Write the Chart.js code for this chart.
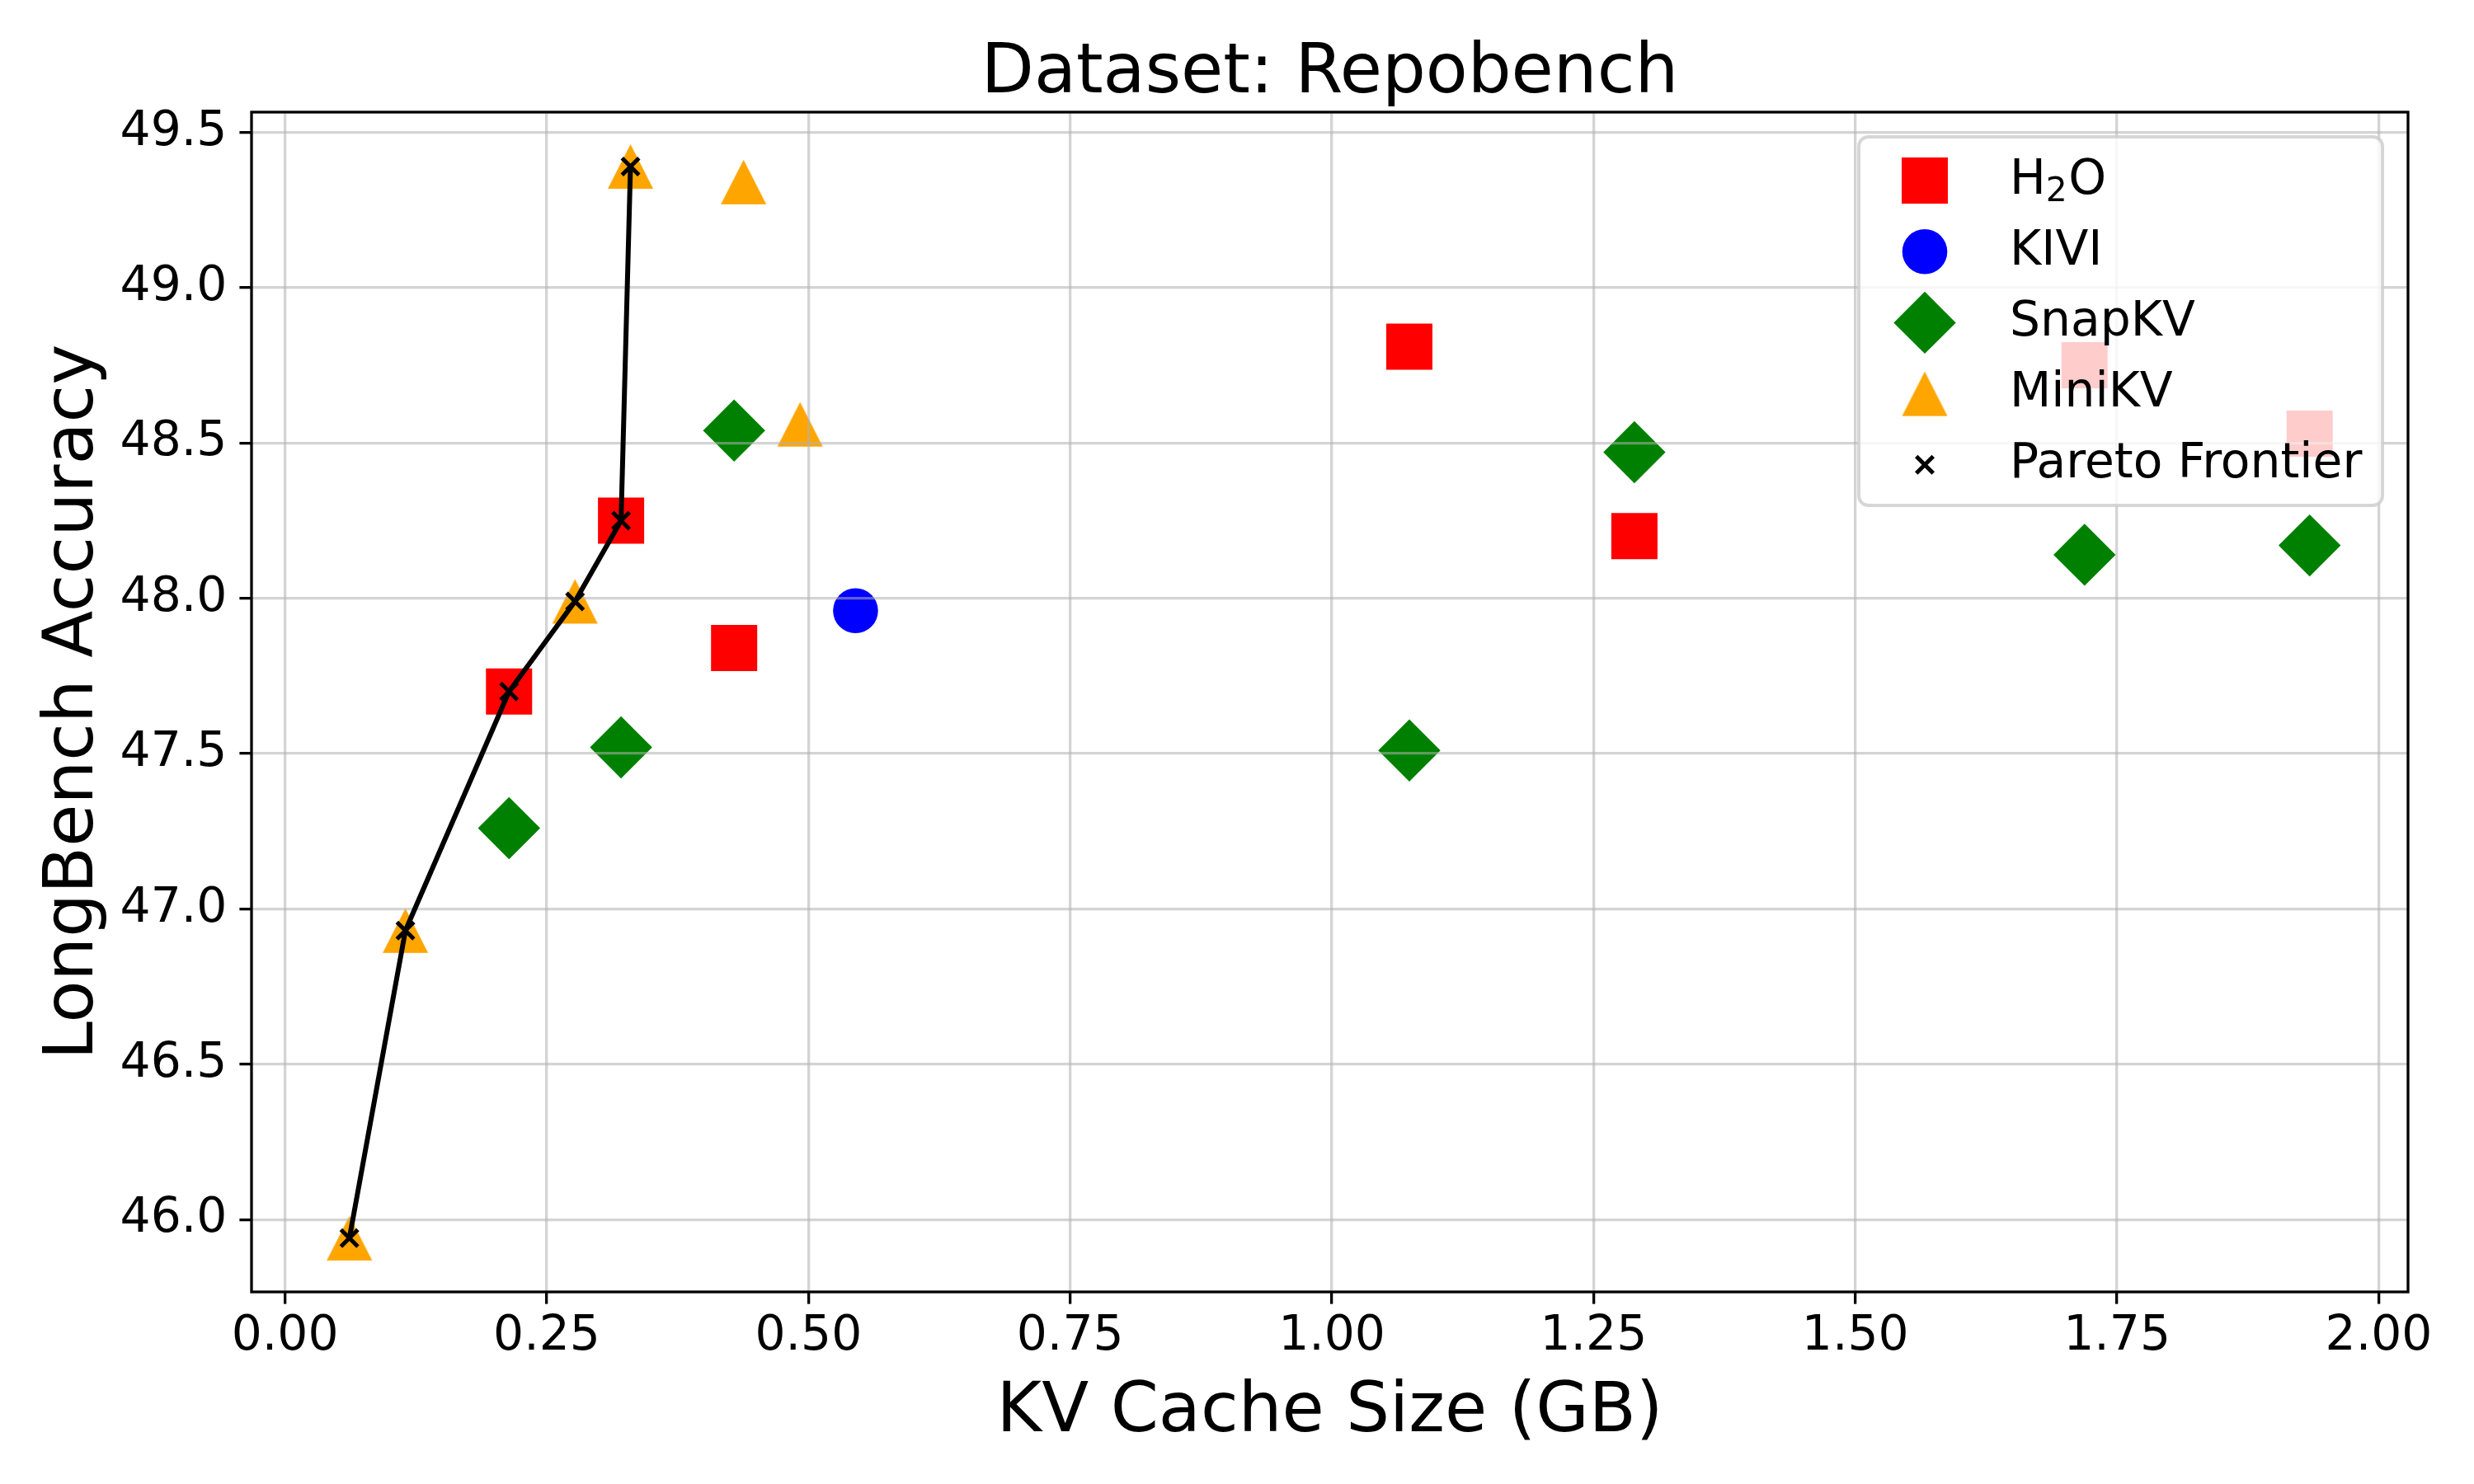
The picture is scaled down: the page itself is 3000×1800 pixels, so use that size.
<!DOCTYPE html>
<html lang="es">
<head>
<meta charset="utf-8">
<title>Dataset: Repobench</title>
<script src="https://cdn.jsdelivr.net/npm/chart.js@4.4.1/dist/chart.umd.min.js"></script>
<style>
    html, body { margin: 0; padding: 0; background: #ffffff; }
    #grafico { display: block; }
</style>
</head>
<body>
<canvas id="grafico" width="3000" height="1800"></canvas>
<script>
//DATOS: TAMAÑO DE LA CACHÉ KV (GB) Y PRECISIÓN EN LONGBENCH.
const h2oTamano = [0.214, 0.321, 0.429, 1.074, 1.289, 1.719, 1.934];
const h2oPrecision = [47.70, 48.25, 47.84, 48.81, 48.20, 48.75, 48.53];

const kiviTamano = [0.545];
const kiviPrecision = [47.96];

const snapTamano = [0.214, 0.321, 0.429, 1.074, 1.289, 1.719, 1.934];
const snapPrecision = [47.26, 47.52, 48.54, 47.51, 48.47, 48.14, 48.17];

const miniTamano = [0.0615, 0.115, 0.277, 0.330, 0.438, 0.492];
const miniPrecision = [45.94, 46.93, 47.99, 49.39, 49.34, 48.56];

const paretoTamano = [0.0615, 0.115, 0.214, 0.277, 0.321, 0.330];
const paretoPrecision = [45.94, 46.93, 47.70, 47.99, 48.25, 49.39];

//MARCAS DE LOS EJES Y TEXTOS.
const ticksX = [0.00, 0.25, 0.50, 0.75, 1.00, 1.25, 1.50, 1.75, 2.00];
const ticksY = [46.0, 46.5, 47.0, 47.5, 48.0, 48.5, 49.0, 49.5];
const limitesX = [-0.032, 2.028];
const limitesY = [45.767, 49.565];
const etiquetas = ["H$_2$O", "KIVI", "SnapKV", "MiniKV", "Pareto Frontier"];
const titulo = "Dataset: Repobench";
const tituloX = "KV Cache Size (GB)";
const tituloY = "LongBench Accuracy";

const FUENTE = "'DejaVu Sans'";
const COLOR_REJILLA = "rgba(176,176,176,0.55)";
const INDICE_PARETO = 4;


//FUNCIÓN PARA CREAR EL TRIÁNGULO (MARCADOR '^' DE MATPLOTLIB, CENTRADO EN SU CAJA).
function crearTriangulo(color, ancho, alto) {
    const lienzo = document.createElement("canvas");
    lienzo.width = Math.ceil(ancho) + 2;
    lienzo.height = Math.ceil(alto) + 2;
    const g = lienzo.getContext("2d");
    const cx = lienzo.width / 2;
    const cy = lienzo.height / 2;
    g.fillStyle = color;
    g.beginPath();
    g.moveTo(cx, cy - alto / 2);
    g.lineTo(cx + ancho / 2, cy + alto / 2);
    g.lineTo(cx - ancho / 2, cy + alto / 2);
    g.closePath();
    g.fill();
    return lienzo;
}


//ESTILO DE CADA SERIE (SE USA EN LOS DATASETS Y EN LA LEYENDA).
const marcadores = [
    { estilo: "rect", radio: 39.6, color: "#ff0000", borde: 0 },
    { estilo: "circle", radio: 27.3, color: "#0000ff", borde: 0 },
    { estilo: "rectRot", radio: 37.7, color: "#008000", borde: 0 },
    { estilo: crearTriangulo("#ffa500", 55, 54), radio: 28, color: "#ffa500", borde: 0 },
    { estilo: "crossRot", radio: 14.5, color: "#000000", borde: 5 }
];


//FUNCIÓN PARA UNIR LOS ARREGLOS X / Y EN PUNTOS.
function puntos(xs, ys) {
    return xs.map((x, i) => ({ x: x, y: ys[i] }));
}


//FUNCIÓN PARA GENERAR UN DATASET DE DISPERSIÓN.
function generarSerie(indice, data) {
    const m = marcadores[indice];
    return {
        label: etiquetas[indice].replace(/\$_(.)\$/g, "$1"),
        data: data,
        pointStyle: m.estilo,
        pointRadius: m.radio,
        pointHoverRadius: m.radio,
        pointBackgroundColor: m.color,
        pointBorderColor: m.color,
        pointBorderWidth: m.borde,
        order: 5 - indice
    };
}


//FUNCIÓN PARA DIBUJAR UN RECTÁNGULO CON ESQUINAS REDONDEADAS.
function rectRedondeado(ctx, x, y, w, h, r) {
    ctx.beginPath();
    ctx.moveTo(x + r, y);
    ctx.lineTo(x + w - r, y);
    ctx.arcTo(x + w, y, x + w, y + r, r);
    ctx.lineTo(x + w, y + h - r);
    ctx.arcTo(x + w, y + h, x + w - r, y + h, r);
    ctx.lineTo(x + r, y + h);
    ctx.arcTo(x, y + h, x, y + h - r, r);
    ctx.lineTo(x, y + r);
    ctx.arcTo(x, y, x + r, y, r);
    ctx.closePath();
}


//FUNCIÓN PARA ESCRIBIR UNA ETIQUETA CON SUBÍNDICES AL ESTILO "$_2$".
function escribirConSubindice(ctx, texto, x, y) {
    const partes = texto.split(/\$_(.)\$/);
    let cursor = x;
    partes.forEach((parte, i) => {
        if (parte === "") {
            return;
        }
        if (i % 2 === 1) {
            ctx.font = "40.8px " + FUENTE;
            ctx.fillText(parte, cursor, y + 9);
        } else {
            ctx.font = "58.3px " + FUENTE;
            ctx.fillText(parte, cursor, y);
        }
        cursor += ctx.measureText(parte).width + (i % 2 === 1 ? 1.5 : 0);
    });
    ctx.font = "58.3px " + FUENTE;
}


//FUNCIÓN PARA DIBUJAR LA LEYENDA DENTRO DEL ÁREA (SEMITRANSPARENTE, COMO MATPLOTLIB).
function dibujarLeyenda(chart) {
    const ctx = chart.ctx;
    const area = chart.chartArea;
    const ancho = 635;
    const alto = 447;
    const x0 = area.right - 31 - ancho;
    const y0 = area.top + 30;

    ctx.save();
    rectRedondeado(ctx, x0, y0, ancho, alto, 11.7);
    ctx.fillStyle = "rgba(255,255,255,0.8)";
    ctx.fill();
    ctx.strokeStyle = "rgba(204,204,204,0.8)";
    ctx.lineWidth = 4;
    ctx.stroke();

    ctx.font = "58.3px " + FUENTE;
    ctx.textAlign = "left";
    ctx.textBaseline = "alphabetic";
    etiquetas.forEach((texto, i) => {
        const m = marcadores[i];
        const cy = y0 + 53 + 86.2 * i;
        ctx.fillStyle = m.color;
        ctx.strokeStyle = m.color;
        ctx.lineWidth = m.borde;
        Chart.helpers.drawPoint(ctx, {
            pointStyle: m.estilo,
            radius: m.radio,
            borderWidth: m.borde,
            rotation: 0
        }, x0 + 80, cy);
        ctx.fillStyle = "#000000";
        escribirConSubindice(ctx, texto, x0 + 183, cy + 15.5);
    });
    ctx.restore();
}


//FUNCIÓN PARA DIBUJAR EL TÍTULO Y LOS NOMBRES DE LOS EJES.
function dibujarTextos(chart) {
    const ctx = chart.ctx;
    const area = chart.chartArea;
    const centroX = (area.left + area.right) / 2;
    const centroY = (area.top + area.bottom) / 2;

    ctx.save();
    ctx.fillStyle = "#000000";
    ctx.font = "83.3px " + FUENTE;
    ctx.textAlign = "center";
    ctx.textBaseline = "alphabetic";
    ctx.fillText(titulo, centroX, area.top - 24.3);
    ctx.fillText(tituloX, centroX, area.bottom + 169);
    ctx.translate(area.left - 193.3, centroY);
    ctx.rotate(-Math.PI / 2);
    ctx.fillText(tituloY, 0, 0);
    ctx.restore();
}


//PLUGIN: FONDO BLANCO, FRONTERA DE PARETO SOBRE LA REJILLA, MARCO, LEYENDA Y TEXTOS.
const pluginFinal = {
    id: "dibujoFinal",
    beforeDraw(chart) {
        const ctx = chart.ctx;
        ctx.save();
        ctx.fillStyle = "#ffffff";
        ctx.fillRect(0, 0, chart.width, chart.height);
        ctx.restore();
    },
    beforeDatasetDraw(chart, args) {
        if (args.index === INDICE_PARETO) {
            return false;
        }
    },
    afterDraw(chart) {
        const ctx = chart.ctx;
        const area = chart.chartArea;

        chart.getDatasetMeta(INDICE_PARETO).controller.draw();

        ctx.save();
        ctx.strokeStyle = "#000000";
        ctx.lineWidth = 3.3;
        ctx.strokeRect(area.left, area.top, area.right - area.left, area.bottom - area.top);
        ctx.restore();

        dibujarLeyenda(chart);
        dibujarTextos(chart);
    }
};


//SE DEFINE Y CONFIGURA EL GRÁFICO.
Chart.defaults.font.family = FUENTE;
Chart.defaults.color = "#000000";

const seriePareto = generarSerie(4, puntos(paretoTamano, paretoPrecision));
seriePareto.showLine = true;
seriePareto.borderColor = "#000000";
seriePareto.borderWidth = 6;
seriePareto.borderJoinStyle = "round";
seriePareto.fill = false;
seriePareto.tension = 0;

const config = {
    type: "scatter",
    data: {
        datasets: [
            generarSerie(0, puntos(h2oTamano, h2oPrecision)),
            generarSerie(1, puntos(kiviTamano, kiviPrecision)),
            generarSerie(2, puntos(snapTamano, snapPrecision)),
            generarSerie(3, puntos(miniTamano, miniPrecision)),
            seriePareto
        ]
    },
    options: {
        responsive: false,
        devicePixelRatio: 1,
        animation: false,
        events: [],
        layout: {
            padding: { left: 0, right: 80, top: 136, bottom: 0 }
        },
        plugins: {
            legend: { display: false },
            tooltip: { enabled: false },
            title: { display: false }
        },
        scales: {
            x: {
                type: "linear",
                min: limitesX[0],
                max: limitesX[1],
                afterFit: function(scale) { scale.height = 233; },
                afterBuildTicks: function(scale) {
                    scale.ticks = ticksX.map(v => ({ value: v }));
                },
                grid: {
                    color: COLOR_REJILLA,
                    lineWidth: 3.3,
                    tickColor: "#000000",
                    tickWidth: 3.3,
                    tickLength: 14.6,
                    z: 1
                },
                border: { display: false },
                ticks: {
                    autoSkip: false,
                    maxRotation: 0,
                    minRotation: 0,
                    padding: 5.5,
                    color: "#000000",
                    font: { size: 58.3, lineHeight: 1.2 },
                    callback: v => Number(v).toFixed(2)
                }
            },
            y: {
                type: "linear",
                min: limitesY[0],
                max: limitesY[1],
                afterFit: function(scale) { scale.width = 305; },
                afterBuildTicks: function(scale) {
                    scale.ticks = ticksY.map(v => ({ value: v }));
                },
                grid: {
                    color: COLOR_REJILLA,
                    lineWidth: 3.3,
                    tickColor: "#000000",
                    tickWidth: 3.3,
                    tickLength: 14.6,
                    z: 1
                },
                border: { display: false },
                ticks: {
                    autoSkip: false,
                    padding: 15,
                    color: "#000000",
                    font: { size: 58.3, lineHeight: 1.2 },
                    callback: v => Number(v).toFixed(1)
                }
            }
        }
    },
    plugins: [pluginFinal]
};

const grafico = new Chart(document.getElementById("grafico"), config);
</script>
</body>
</html>
